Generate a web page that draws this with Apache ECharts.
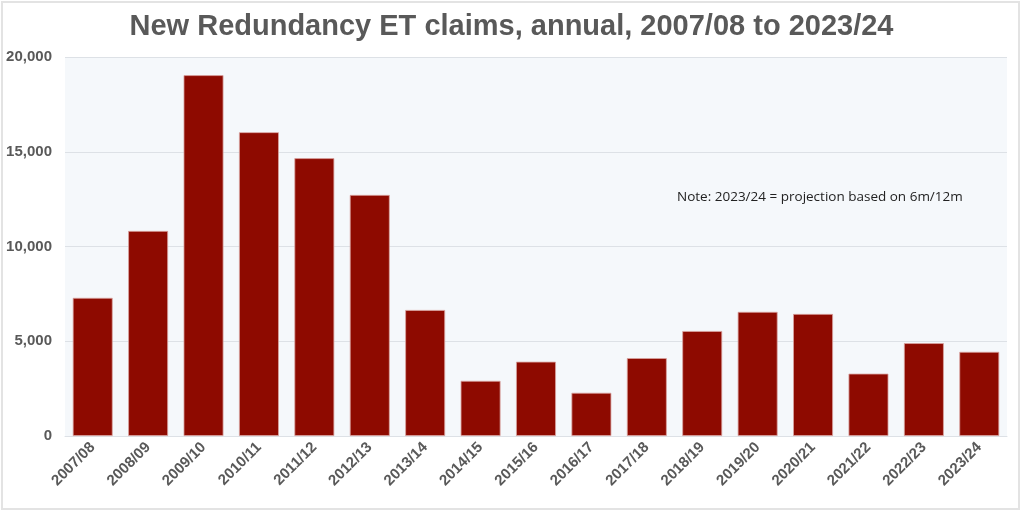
<!DOCTYPE html>
<html><head><meta charset="utf-8">
<script src="https://cdn.jsdelivr.net/npm/echarts@6/dist/echarts.min.js"></script>
<style>html,body{margin:0;padding:0;background:#fff;}#c{width:1023px;height:513px;}</style>
</head><body><div id="c"></div>
<script>
var categories = ['2007/08','2008/09','2009/10','2010/11','2011/12','2012/13','2013/14','2014/15','2015/16','2016/17','2017/18','2018/19','2019/20','2020/21','2021/22','2022/23','2023/24'];
var claims = [7290, 10820, 19040, 16030, 14660, 12720, 6650, 2910, 3920, 2280, 4110, 5540, 6550, 6440, 3290, 4900, 4440];
var yTicks = [0, 5000, 10000, 15000, 20000];
var titleText = 'New Redundancy ET claims, annual, 2007/08 to 2023/24';
var noteText = 'Note: 2023/24 = projection based on 6m/12m';

var chart = echarts.init(document.getElementById('c'), null, {renderer: 'canvas'});
chart.setOption({
  animation: false,
  backgroundColor: '#ffffff',
  title: {
    text: titleText, left: 'center', top: 7,
    textStyle: {fontFamily: 'Liberation Sans', fontWeight: 'bold', fontSize: 29, color: '#595959'}
  },
  graphic: [
    {type: 'rect', shape: {x: 2, y: 2, width: 1017, height: 507}, style: {fill: 'none', stroke: '#e3e3e3', lineWidth: 2}, z: -1},
    {type: 'text', left: 677, top: 190, style: {text: noteText, font: '13.5px "Open Sans"', fill: '#222'}, z: 10}
  ],
  grid: {left: 65, right: 16, top: 57, bottom: 77, show: true, backgroundColor: '#f5f8fb', borderWidth: 0},
  xAxis: {
    type: 'category', data: categories,
    axisLine: {show: true, lineStyle: {color: '#dde1e6', width: 1}},
    axisTick: {show: false},
    axisLabel: {rotate: 45, interval: 0, fontFamily: 'Liberation Sans', fontWeight: 'bold', fontSize: 15, color: '#595959', margin: 9}
  },
  yAxis: {
    type: 'value', min: 0, max: 20000, interval: 5000,
    axisLine: {show: false}, axisTick: {show: false},
    splitLine: {lineStyle: {color: '#dde1e6', width: 1}},
    axisLabel: {
      fontFamily: 'Liberation Sans', fontWeight: 'bold', fontSize: 15, color: '#595959', margin: 13,
      formatter: function (v) { return yTicks.indexOf(v) >= 0 ? v.toLocaleString('en-US') : ''; }
    }
  },
  series: [{
    type: 'bar', data: claims, barCategoryGap: '28%',
    itemStyle: {color: '#8e0a00', borderColor: '#d9a3a0', borderWidth: 0.8}
  }]
});
</script></body></html>
